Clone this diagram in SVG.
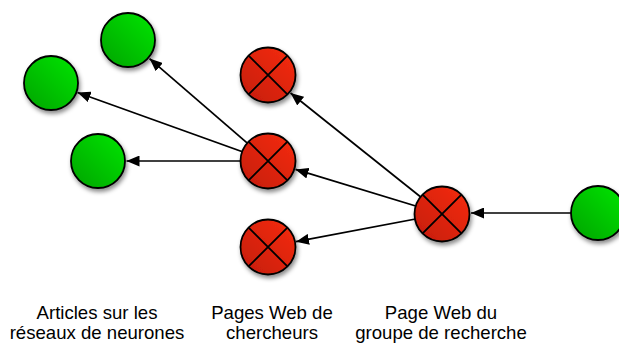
<svg xmlns="http://www.w3.org/2000/svg" width="619" height="343" viewBox="0 0 619 343">
<style>
.edge{stroke:#000;stroke-width:1.7;fill:none;marker-end:url(#arr)}
.g{fill:url(#gg);stroke:#000;stroke-width:1.8;filter:url(#sh)}
.r{fill:url(#rg);stroke:#000;stroke-width:1.8;filter:url(#sh)}
.x{stroke:#000;stroke-width:1.8}
.lbl{font-family:"Liberation Sans",Arial,sans-serif;font-size:18.6px;fill:#000;text-anchor:middle}
</style>
<defs>
<linearGradient id="gg" x1="1" y1="0" x2="0" y2="1">
<stop offset="0" stop-color="#00e600"/>
<stop offset="1" stop-color="#00a300"/>
</linearGradient>
<linearGradient id="rg" x1="1" y1="0" x2="0" y2="1">
<stop offset="0" stop-color="#f72c0c"/>
<stop offset="1" stop-color="#c31c0c"/>
</linearGradient>
<filter id="sh" x="-30%" y="-30%" width="170%" height="170%">
<feDropShadow dx="1.5" dy="3" stdDeviation="2" flood-color="#000" flood-opacity="0.45"/>
</filter>
<marker id="arr" markerUnits="userSpaceOnUse" markerWidth="13" markerHeight="11" refX="13" refY="5.5" orient="auto">
<path d="M0,0 L13,5.5 L0,11 z" fill="#000"/>
</marker>
</defs>
<g id="connectors">
<line class="edge" x1="268" y1="161" x2="149.5" y2="58.6"/>
<line class="edge" x1="268" y1="161" x2="77.5" y2="92.5"/>
<line class="edge" x1="268" y1="161" x2="126.5" y2="161"/>
<line class="edge" x1="442" y1="214" x2="290.5" y2="93"/>
<line class="edge" x1="442" y1="214" x2="295.5" y2="169.4"/>
<line class="edge" x1="442" y1="214" x2="296" y2="241.7"/>
<line class="edge" x1="598" y1="213" x2="471" y2="213"/>
</g>
<g id="g1"><circle class="g" cx="128" cy="40" r="27"/></g>
<g id="g2"><circle class="g" cx="51" cy="83" r="27"/></g>
<g id="g3"><circle class="g" cx="98" cy="161" r="27"/></g>
<g id="g4"><circle class="g" cx="598" cy="213" r="27"/></g>
<g id="r1"><circle class="r" cx="268" cy="75" r="27.5"/><path class="x" d="M248.6,55.6 L287.4,94.4 M287.4,55.6 L248.6,94.4"/></g>
<g id="r2"><circle class="r" cx="268" cy="161" r="27.5"/><path class="x" d="M248.6,141.6 L287.4,180.4 M287.4,141.6 L248.6,180.4"/></g>
<g id="r3"><circle class="r" cx="268" cy="247" r="27.5"/><path class="x" d="M248.6,227.6 L287.4,266.4 M287.4,227.6 L248.6,266.4"/></g>
<g id="r4"><circle class="r" cx="442" cy="214" r="27.5"/><path class="x" d="M422.6,194.6 L461.4,233.4 M461.4,194.6 L422.6,233.4"/></g>
<g id="labels">
<text class="lbl" x="97" y="319">Articles sur les</text>
<text class="lbl" x="97" y="339">réseaux de neurones</text>
<text class="lbl" x="272" y="319">Pages Web de</text>
<text class="lbl" x="272" y="339">chercheurs</text>
<text class="lbl" x="441" y="319">Page Web du</text>
<text class="lbl" x="441" y="339">groupe de recherche</text>
</g>
</svg>
